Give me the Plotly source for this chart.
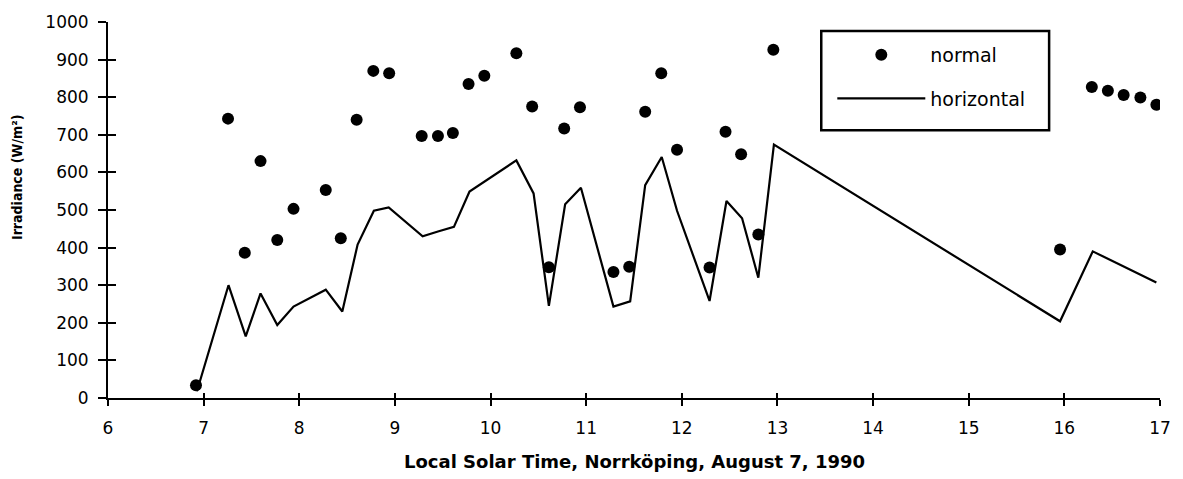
import plotly.graph_objects as go

# Normal irradiance (dots)
normal_time = [6.92, 7.255, 7.43, 7.595, 7.77, 7.94, 8.277, 8.434, 8.60, 8.774, 8.94,
               9.28, 9.45, 9.606, 9.77, 9.935, 10.27, 10.435, 10.61, 10.77, 10.935,
               11.285, 11.45, 11.617, 11.785, 11.95, 12.29, 12.457, 12.62, 12.80, 12.957,
               15.955, 16.287, 16.455, 16.62, 16.795, 16.962]
normal_val = [34, 743, 386, 630, 420, 503, 553, 425, 740, 870, 864,
              697, 697, 705, 835, 857, 917, 775, 348, 717, 773,
              335, 349, 761, 864, 660, 347, 708, 648, 435, 926,
              395, 827, 817, 806, 799, 780]

# Horizontal irradiance (line)
horiz_time = [6.93, 7.26, 7.44, 7.595, 7.77, 7.94, 8.277, 8.45, 8.61, 8.78, 8.935,
              9.29, 9.45, 9.617, 9.78, 9.935, 10.27, 10.45, 10.61, 10.78, 10.945,
              11.285, 11.46, 11.617, 11.79, 11.95, 12.29, 12.467, 12.63, 12.80, 12.963,
              15.955, 16.297, 16.962]
horiz_val = [18, 300, 164, 278, 194, 243, 288, 230, 408, 498, 507,
             430, 443, 455, 549, 575, 632, 544, 245, 515, 559,
             243, 257, 566, 641, 498, 258, 524, 478, 320, 674,
             204, 390, 307]

x_ticks = list(range(6, 18))
y_ticks = list(range(0, 1001, 100))

FONT = "DejaVu Sans"
FONT_C = "DejaVu Sans Condensed"

fig = go.Figure()
fig.add_trace(go.Scatter(
    x=normal_time, y=normal_val, mode="markers", name="normal",
    legendgroup="a",
    marker=dict(color="black", size=12, symbol="circle"),
))
fig.add_trace(go.Scatter(
    x=horiz_time, y=horiz_val, mode="lines", name="horizontal",
    legendgroup="b",
    line=dict(color="black", width=2.2),
))

axis_common = dict(showgrid=False, zeroline=False, showline=True, linecolor="black",
                   linewidth=2, tickcolor="black", tickwidth=2)

fig.update_layout(
    width=1183, height=479,
    margin=dict(l=108, r=22, t=19, b=81),
    paper_bgcolor="white", plot_bgcolor="white",
    font=dict(family=FONT, color="black", size=17),
    showlegend=True,
    legend=dict(
        x=0.6885, y=0.963, xanchor="left", yanchor="top",
        borderwidth=0, bgcolor="rgba(0,0,0,0)",
        font=dict(family=FONT, size=19, color="black"),
        itemwidth=88, tracegroupgap=16, traceorder="grouped",
    ),
    xaxis=dict(range=[6, 17], tickvals=x_ticks, ticks="outside", ticklen=6,
               tickfont=dict(size=17), ticklabelstandoff=8, **axis_common),
    yaxis=dict(range=[0, 1000], tickvals=y_ticks, ticks="outside", ticklen=8,
               tickfont=dict(size=17), ticklabelstandoff=6, **axis_common),
    xaxis2=dict(overlaying="x", matches="x", range=[6, 17], tickvals=x_ticks,
                ticks="inside", ticklen=5, showticklabels=False, showgrid=False,
                zeroline=False, showline=False, tickcolor="black", tickwidth=2,
                anchor="y"),
    yaxis2=dict(overlaying="y", matches="y", range=[0, 1000], tickvals=y_ticks,
                ticks="inside", ticklen=8, showticklabels=False, showgrid=False,
                zeroline=False, showline=False, tickcolor="black", tickwidth=2,
                side="left", anchor="x"),
    shapes=[
        dict(type="rect", xref="paper", yref="paper", x0=0.678, x1=0.8946,
             y0=0.7124, y1=0.9763, line=dict(color="black", width=2.5),
             fillcolor="rgba(0,0,0,0)", layer="above"),
    ],
    annotations=[
        dict(text="<b>Local Solar Time, Norrköping, August 7, 1990</b>",
             xref="paper", yref="paper", x=0.5, y=-0.168, xanchor="center", yanchor="middle",
             showarrow=False, font=dict(family=FONT, size=18, color="black")),
        dict(text="<b>Irradiance (W/m²)</b>",
             xref="paper", yref="paper", x=-0.0865, y=0.585, xanchor="center", yanchor="middle",
             textangle=-90, showarrow=False, font=dict(family=FONT_C, size=14, color="black")),
    ],
)

# invisible trace to activate the overlay axes for crossing ticks
fig.add_trace(go.Scatter(x=[None], y=[None], xaxis="x2", yaxis="y2", showlegend=False,
                         hoverinfo="skip"))

fig.write_html("out.html", config={"displayModeBar": False},
               post_script="document.body.style.margin='0px';")
